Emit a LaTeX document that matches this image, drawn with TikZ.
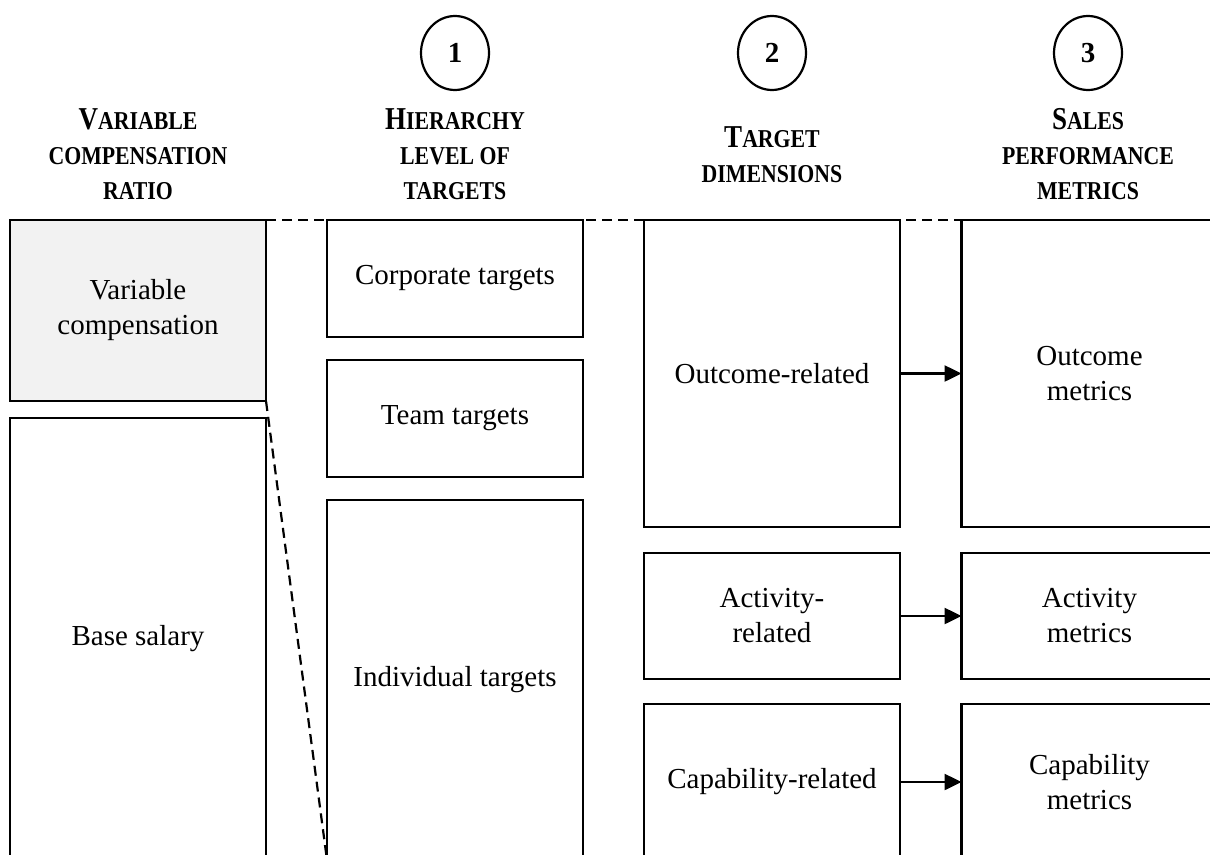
\documentclass[tikz,border=0pt]{standalone}
\usepackage{fontspec}
\usepackage{graphicx}
\setmainfont{Liberation Serif}
\usetikzlibrary{arrows.meta,shapes.geometric}
% tall small capitals built from two sizes of bold capitals
\newcommand\inicap[1]{\scalebox{1}[1.18]{\fontsize{27}{35}\selectfont #1}}
\newcommand\smc[1]{\scalebox{1}[1.18]{\fontsize{21.8}{35}\selectfont #1}}
\begin{document}
\begin{tikzpicture}[x=1pt,y=-1pt,
  box/.style={draw, line width=2.5pt, fill=white, inner sep=0pt, outer sep=0pt, align=center,
              font=\fontsize{29}{35}\selectfont, minimum width=256pt},
  head/.style={align=center, font=\fontsize{29}{35}\selectfont\bfseries, inner sep=0pt},
  num/.style={draw, ellipse, line width=2.2pt, minimum width=68pt, minimum height=74pt,
              inner sep=0pt, font=\fontsize{29}{34}\selectfont\bfseries},
  guide/.style={line width=2.2pt, dash pattern=on 10pt off 6pt},
  arr/.style={line width=2.5pt, -{Triangle[length=17pt,width=16pt]}}]
\useasboundingbox (0,0) rectangle (1210,854);
\clip (0,0) rectangle (1210,854);

% numbered circles
\node[num] (c1) at (455,53) {1};
\node[num] (c2) at (772,53) {2};
\node[num] (c3) at (1088,53) {3};

% column headings
\node[head] (h0) at (138,154) {\inicap{V}\smc{ARIABLE}\\\smc{COMPENSATION}\\\smc{RATIO}};
\node[head] (h1) at (455,154) {\inicap{H}\smc{IERARCHY}\\\smc{LEVEL OF}\\\smc{TARGETS}};
\node[head] (h2) at (772,154.5) {\inicap{T}\smc{ARGET}\\\smc{DIMENSIONS}};
\node[head] (h3) at (1088,154) {\inicap{S}\smc{ALES}\\\smc{PERFORMANCE}\\\smc{METRICS}};

% compensation split
\node[box, fill={rgb,255:red,242;green,242;blue,242}, minimum height=181pt] (vc) at (138,310.5) {Variable\\compensation};
\coordinate (topend) at (1230,220);
\draw[guide] (vc.north east) -- (topend);

% hierarchy levels
\node[box, minimum height=117pt] (corp) at (455,278.5) {Corporate targets};
\node[box, minimum height=117pt] (team) at (455,418.5) {Team targets};
\node[box, minimum height=360pt] (ind) at (455,680) {Individual targets};
\node[box, minimum height=442pt] (bs) at (138,639) {Base salary};
\draw[guide] (vc.south east) -- (ind.south west);

% target dimensions
\node[box, minimum height=307pt] (outr) at (772,373.5) {Outcome-related};
\node[box, minimum height=126pt] (actr) at (772,616) {Activity-\\related};
\node[box, minimum height=156pt] (capr) at (772,782) {Capability-related};

% performance metrics
\node[box, minimum height=307pt] (outm) at (1089.5,373.5) {Outcome\\metrics};
\node[box, minimum height=126pt] (actm) at (1089.5,616) {Activity\\metrics};
\node[box, minimum height=156pt] (capm) at (1089.5,782) {Capability\\metrics};

\draw[arr] (outr.east) -- (outm.west);
\draw[arr] (actr.east) -- (actm.west);
\draw[arr] (capr.east) -- (capm.west);
\end{tikzpicture}
\end{document}
